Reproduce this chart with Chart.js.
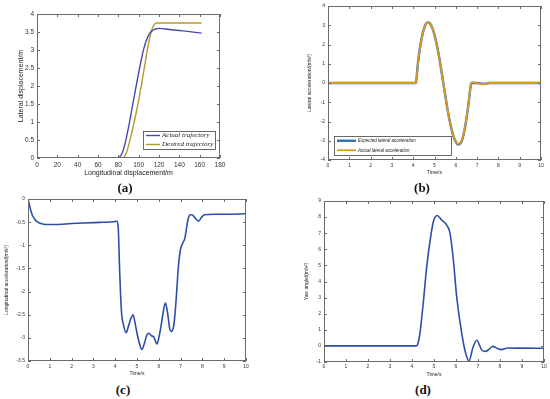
<!DOCTYPE html>
<html>
<head>
<meta charset="utf-8">
<script src="https://cdn.jsdelivr.net/npm/chart.js@4.4.1/dist/chart.umd.min.js"></script>
<style>
  html, body { margin: 0; padding: 0; background: #fff; }
  body { width: 550px; height: 399px; position: relative; overflow: hidden; }
  canvas { position: absolute; }
  .tag { position: absolute; font: bold 13px "Liberation Serif", serif; color: #111; transform: translate(-50%, -50%); }
</style>
</head>
<body>
<canvas id="chartA" width="230" height="180" style="left:0;top:0"></canvas>
<canvas id="chartB" width="250" height="180" style="left:300px;top:0"></canvas>
<canvas id="chartC" width="256" height="190" style="left:0;top:190px"></canvas>
<canvas id="chartD" width="255" height="190" style="left:295px;top:190px"></canvas>
<div class="tag" style="left:125px;top:188px">(a)</div>
<div class="tag" style="left:422px;top:188px">(b)</div>
<div class="tag" style="left:123px;top:390px">(c)</div>
<div class="tag" style="left:423px;top:390px">(d)</div>
<script>
// (a) trajectories
const trajActualX = [0, 78, 81, 84, 87, 90, 93, 96, 99, 102, 105, 108, 111, 114, 117, 120, 130, 140, 150, 162];
const trajActualY = [0, 0, 0.02, 0.15, 0.45, 0.85, 1.3, 1.77, 2.22, 2.65, 3.03, 3.3, 3.47, 3.55, 3.59, 3.6, 3.57, 3.54, 3.51, 3.47];
const trajDesiredX = [0, 83, 85, 88, 91, 94, 97, 100, 103, 106, 109, 112, 115, 118, 130, 162];
const trajDesiredY = [0, 0, 0.01, 0.15, 0.45, 0.8, 1.18, 1.6, 2.07, 2.58, 3.07, 3.48, 3.7, 3.75, 3.75, 3.75];

// (b) lateral acceleration
const latTime = [0, 4.1, 4.13, 4.2, 4.3, 4.4, 4.5, 4.6, 4.7, 4.8, 4.9, 5.0, 5.1, 5.2, 5.3, 5.4, 5.5, 5.6, 5.7, 5.8, 5.9, 6.0, 6.1, 6.2, 6.3, 6.4, 6.5, 6.6, 6.7, 6.75, 7.0, 7.2, 7.5, 7.6, 10];
const latExpected = [0, 0, 0, 0.8, 1.7, 2.35, 2.8, 3.07, 3.15, 3.08, 2.85, 2.5, 2.02, 1.45, 0.8, 0.1, -0.6, -1.3, -1.9, -2.4, -2.8, -3.05, -3.2, -3.15, -2.95, -2.5, -1.85, -1.05, -0.15, 0, 0, -0.03, -0.02, 0, 0];
const latActual = [0, 0, 0, 0.75, 1.68, 2.33, 2.79, 3.06, 3.13, 3.07, 2.84, 2.5, 2.02, 1.45, 0.8, 0.1, -0.6, -1.3, -1.9, -2.4, -2.8, -3.04, -3.17, -3.12, -2.93, -2.48, -1.83, -1.03, -0.12, 0.03, 0.01, -0.05, -0.04, 0, 0];

// (c) longitudinal acceleration
const lonTime = [0, 0.1, 0.2, 0.3, 0.45, 0.6, 0.8, 1.2, 2, 3, 3.9, 4.08, 4.14, 4.2, 4.25, 4.3, 4.38, 4.5, 4.6, 4.72, 4.82, 4.9, 5.0, 5.1, 5.22, 5.32, 5.45, 5.55, 5.67, 5.76, 5.85, 5.92, 6.0, 6.1, 6.2, 6.3, 6.4, 6.5, 6.56, 6.68, 6.75, 6.82, 6.9, 7.0, 7.1, 7.2, 7.28, 7.35, 7.45, 7.55, 7.7, 7.83, 7.95, 8.1, 8.5, 9, 10];
const lonAccel = [0, -0.2, -0.35, -0.43, -0.5, -0.53, -0.55, -0.55, -0.53, -0.51, -0.49, -0.48, -0.62, -1.5, -2.1, -2.5, -2.72, -2.89, -2.76, -2.58, -2.5, -2.65, -2.9, -3.1, -3.25, -3.15, -2.94, -2.9, -2.96, -2.97, -3.08, -3.13, -3.0, -2.75, -2.45, -2.25, -2.45, -2.8, -2.86, -2.75, -2.45, -2.0, -1.45, -1.08, -0.95, -0.84, -0.6, -0.42, -0.34, -0.35, -0.43, -0.48, -0.4, -0.34, -0.33, -0.33, -0.32];

// (d) yaw
const yawTime = [0, 4.2, 4.28, 4.36, 4.51, 4.67, 4.85, 4.97, 5.14, 5.35, 5.58, 5.73, 5.88, 6.03, 6.26, 6.44, 6.59, 6.76, 6.94, 7.17, 7.35, 7.5, 7.68, 7.9, 8.06, 8.36, 9, 10];
const yawValue = [0, 0, 0.2, 0.78, 2.65, 4.92, 6.78, 7.71, 8.1, 7.82, 7.5, 6.99, 5.34, 3.06, 0.78, -0.46, -0.94, -0.15, 0.35, -0.25, -0.34, -0.2, -0.03, -0.18, -0.23, -0.13, -0.14, -0.15];

const pts = (xs, ys) => xs.map((x, i) => ({ x: x, y: ys[i] }));

// box + inward ticks on all four sides
Chart.register({
  id: "frame",
  afterDatasetsDraw(chart) {
    const { ctx, chartArea: a, scales } = chart;
    ctx.save();
    ctx.strokeStyle = "#6a6a6a";
    ctx.lineWidth = 1;
    ctx.strokeRect(a.left + 0.5, a.top + 0.5, a.right - a.left - 1, a.bottom - a.top - 1);
    ctx.beginPath();
    scales.x.ticks.forEach((t) => {
      const px = Math.round(scales.x.getPixelForValue(t.value)) + 0.5;
      ctx.moveTo(px, a.bottom); ctx.lineTo(px, a.bottom - 3);
      ctx.moveTo(px, a.top); ctx.lineTo(px, a.top + 3);
    });
    scales.y.ticks.forEach((t) => {
      const py = Math.round(scales.y.getPixelForValue(t.value)) + 0.5;
      ctx.moveTo(a.left, py); ctx.lineTo(a.left + 3, py);
      ctx.moveTo(a.right, py); ctx.lineTo(a.right - 3, py);
    });
    ctx.stroke();
    ctx.restore();
  },
});

// legend drawn inside the plot box
Chart.register({
  id: "boxLegend",
  afterDatasetsDraw(chart, args, o) {
    if (!o.width) return;
    const { ctx, chartArea: a } = chart;
    const x0 = o.left != null ? a.left + o.left : a.right - o.right - o.width;
    const y0 = a.bottom - o.bottom - o.height;
    ctx.save();
    ctx.fillStyle = "#fff";
    ctx.fillRect(x0, y0, o.width, o.height);
    ctx.strokeStyle = "#444";
    ctx.lineWidth = 0.8;
    ctx.strokeRect(x0 + 0.5, y0 + 0.5, o.width, o.height);
    ctx.font = o.font;
    ctx.textBaseline = "middle";
    const rowH = o.height / chart.data.datasets.length;
    chart.data.datasets.forEach((ds, i) => {
      const y = y0 + rowH * (i + 0.5);
      ctx.strokeStyle = ds.borderColor;
      ctx.lineWidth = ds.borderWidth;
      ctx.beginPath();
      ctx.moveTo(x0 + 3, y);
      ctx.lineTo(x0 + 3 + o.sample, y);
      ctx.stroke();
      ctx.fillStyle = "#222";
      ctx.fillText(ds.label, x0 + 5 + o.sample, y);
    });
    ctx.restore();
  },
});

function line(label, data, color, width, order) {
  return {
    label: label, data: data, borderColor: color, borderWidth: width, order: order || 0,
    pointRadius: 0, showLine: true, fill: false, tension: 0.4, cubicInterpolationMode: "monotone",
  };
}

function axis(o) {
  return {
    type: "linear", min: o.min, max: o.max,
    ticks: {
      stepSize: o.step, autoSkip: false, maxRotation: 0, padding: o.tickPad,
      color: "#333", font: { family: "Arial, 'Liberation Sans'", size: o.tick },
      callback: (v) => String(Math.round(v * 100) / 100),
    },
    grid: { display: false, drawTicks: false },
    border: { display: false },
    title: {
      display: true, text: o.title, color: "#222",
      font: { family: "Arial, 'Liberation Sans'", size: o.titleSize, lineHeight: 1.2 },
      padding: o.titlePad,
    },
    afterFit: (s) => { if (o.w != null) s.width = o.w; if (o.h != null) s.height = o.h; },
  };
}

function makeChart(id, datasets, pad, xAx, yAx, legend) {
  return new Chart(document.getElementById(id), {
    type: "scatter",
    data: { datasets: datasets },
    options: {
      responsive: false,
      animation: false,
      layout: { padding: pad },
      plugins: { legend: { display: false }, tooltip: { enabled: false }, boxLegend: legend || {} },
      scales: { x: axis(xAx), y: axis(yAx) },
    },
  });
}

makeChart("chartA", [
  line("Actual trajectory", pts(trajActualX, trajActualY), "#4848b4", 1.4, 0),
  line("Desired trajectory", pts(trajDesiredX, trajDesiredY), "#b39c2c", 1.4, 1),
], { top: 14, right: 10, left: 0, bottom: 0 },
  { min: 0, max: 180, step: 20, tick: 6.5, tickPad: 3, title: "Longitudinal displacement/m", titleSize: 7, titlePad: { top: 0, bottom: 2.8 }, h: 22 },
  { min: 0, max: 4, step: 0.5, tick: 6.5, tickPad: 3, title: "Lateral displacement/m", titleSize: 7, titlePad: { top: 16.8, bottom: 0 }, w: 37 },
  { right: 5, bottom: 9, width: 72, height: 18, sample: 14, font: "italic 7px 'Liberation Serif', serif" });

// actual (orange) drawn over expected (blue)
makeChart("chartB", [
  line("Expected lateral acceleration", pts(latTime, latExpected), "#2f6fb8", 2.4, 1),
  line("Actual lateral acceleration", pts(latTime, latActual), "#dc9a22", 1.8, 0),
], { top: 5, right: 9, left: 0, bottom: 0 },
  { min: 0, max: 10, step: 1, tick: 5, tickPad: 3, title: "Time/s", titleSize: 5, titlePad: { top: 0, bottom: 4 }, h: 20 },
  { min: -4, max: 4, step: 1, tick: 5, tickPad: 3, title: "Lateral acceleration/(m/s\u00b2)", titleSize: 5, titlePad: { top: 7, bottom: 0 }, w: 28 },
  { left: 6, bottom: 5, width: 117, height: 19, sample: 19, font: "italic 4.5px Arial, 'Liberation Sans', sans-serif" });

makeChart("chartC", [
  line("Longitudinal acceleration", pts(lonTime, lonAccel), "#2c4fa6", 1.6),
], { top: 9, right: 10, left: 0, bottom: 0 },
  { min: 0, max: 10, step: 1, tick: 5, tickPad: 3, title: "Time/s", titleSize: 5, titlePad: { top: 0, bottom: 3 }, h: 19 },
  { min: -3.5, max: 0, step: 0.5, tick: 5, tickPad: 3, title: "Longitudinal acceleration/(m/s\u00b2)", titleSize: 5, titlePad: { top: 4, bottom: 0 }, w: 28 });

makeChart("chartD", [
  line("Yaw angle", pts(yawTime, yawValue), "#2c4fa6", 1.6),
], { top: 11, right: 6, left: 0, bottom: 0 },
  { min: 0, max: 10, step: 1, tick: 5, tickPad: 2, title: "Time/s", titleSize: 5, titlePad: { top: 0, bottom: 2 }, h: 18 },
  { min: -1, max: 9, step: 1, tick: 5, tickPad: 3, title: "Yaw angle/(m/s\u00b2)", titleSize: 5, titlePad: { top: 9, bottom: 0 }, w: 29 });
</script>
</body>
</html>
